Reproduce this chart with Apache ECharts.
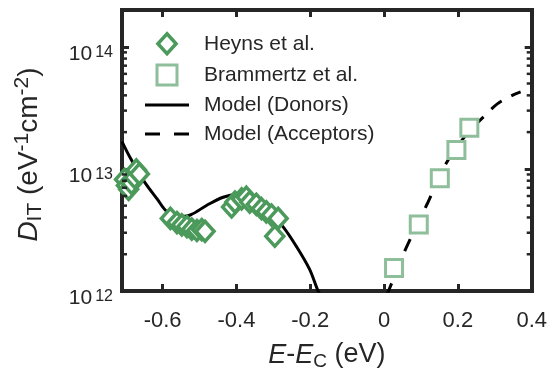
<!DOCTYPE html>
<html>
<head>
<meta charset="utf-8">
<script src="https://cdn.jsdelivr.net/npm/echarts@6/dist/echarts.min.js"></script>
<style>
  html, body { margin: 0; padding: 0; background: #ffffff; }
  #chart { width: 550px; height: 376px; }
</style>
</head>
<body>
<div id="chart"></div>
<script>
// Interface trap density D_IT versus energy relative to the conduction band edge.

// Heyns et al. measurements (E - E_C in eV, D_IT in eV^-1 cm^-2)
const heynsE = [-0.711, -0.703, -0.698, -0.692, -0.684, -0.676, -0.671, -0.663,
  -0.579, -0.561, -0.548, -0.534, -0.521, -0.507, -0.494, -0.485,
  -0.413, -0.404, -0.386, -0.373, -0.364, -0.346, -0.332, -0.319, -0.305, -0.287, -0.296];
const heynsDit = [8.8e12, 8.2e12, 7.3e12, 6.8e12, 7.6e12, 8.5e12, 9.8e12, 9.1e12,
  3.93e12, 3.63e12, 3.48e12, 3.37e12, 3.21e12, 3.13e12, 3.18e12, 3.08e12,
  4.88e12, 5.35e12, 5.68e12, 5.86e12, 5.35e12, 5.13e12, 4.72e12, 4.45e12, 4.19e12, 3.93e12, 2.81e12];

// Brammertz et al. measurements
const brammertzE = [0.027, 0.094, 0.151, 0.196, 0.231];
const brammertzDit = [1.54e12, 3.5e12, 8.4e12, 1.43e13, 2.17e13];

// Model curve, donor-like traps
const donorE = [-0.71, -0.687, -0.651, -0.615, -0.588, -0.557, -0.525, -0.48, -0.436,
  -0.4, -0.364, -0.319, -0.274, -0.238, -0.202, -0.18, -0.17];
const donorDit = [1.67e13, 1.22e13, 7.98e12, 5.68e12, 4.45e12, 4.06e12, 4.19e12, 5.04e12, 5.86e12,
  6.17e12, 5.86e12, 4.72e12, 3.37e12, 2.33e12, 1.51e12, 1.02e12, 0.9e12];

// Model curve, acceptor-like traps
const acceptorE = [0.006, 0.012, 0.058, 0.117, 0.166, 0.22, 0.254, 0.274, 0.306, 0.346, 0.37];
const acceptorDit = [0.92e12, 1.0e12, 2.19e12, 5.18e12, 1.08e13, 1.86e13, 2.4e13, 2.75e13, 3.39e13, 3.98e13, 4.27e13];

// Axis ranges and minor log ticks
const xMin = -0.71, xMax = 0.4;
const yMin = 1e12, yMax = 2e14;
const yMinorTicks = [2e12, 3e12, 4e12, 5e12, 6e12, 7e12, 8e12, 9e12,
  2e13, 3e13, 4e13, 5e13, 6e13, 7e13, 8e13, 9e13];

const ink = '#262626';
const heynsColor = '#4b9a5b';
const brammertzColor = '#8fbe9b';
const font = 'Liberation Sans, Arial, Helvetica, sans-serif';

const pairs = (xs, ys) => xs.map((x, i) => [x, ys[i]]);

const axisLine = { show: true, onZero: false, lineStyle: { color: ink, width: 4, cap: 'square' } };
const majorTick = { show: true, inside: true, length: 7, lineStyle: { color: ink, width: 3 } };

const xLabel = v => {
  const k = v / 0.2;
  if (Math.abs(k - Math.round(k)) > 1e-6) return '';
  return String(+v.toFixed(1));
};
const yLabel = v => {
  const e = Math.log10(v);
  if (Math.abs(e - Math.round(e)) > 1e-6) return '';
  return '{b|10}{s|' + Math.round(e) + '}';
};

// legend glyphs
const diamondIcon = 'path://M10,0L20,11L10,22L0,11Z';
const squareIcon = 'path://M0,0H20V20H0Z';
const solidIcon = 'path://M0,0H44V3H0Z';
const dashedIcon = 'path://M0,0H15V3H0ZM29,0H44V3H29Z';

const chart = echarts.init(document.getElementById('chart'), null, { renderer: 'canvas' });

chart.setOption({
  animation: false,
  backgroundColor: '#ffffff',
  textStyle: { fontFamily: font, color: ink },
  grid: { left: 122, right: 15, top: 10, bottom: 81, containLabel: false },
  legend: {
    orient: 'vertical',
    left: 140,
    top: 27,
    itemWidth: 44,
    itemHeight: 20,
    itemGap: 8,
    symbolKeepAspect: true,
    selectedMode: false,
    data: [
      { name: 'Heyns et al.', icon: diamondIcon, itemStyle: { color: '#ffffff', borderColor: heynsColor, borderWidth: 3.5 } },
      { name: 'Brammertz et al.', icon: squareIcon, itemStyle: { color: '#ffffff', borderColor: brammertzColor, borderWidth: 3 } },
      { name: 'Model (Donors)', icon: solidIcon, itemStyle: { color: '#000000', borderWidth: 0 } },
      { name: 'Model (Acceptors)', icon: dashedIcon, itemStyle: { color: '#000000', borderWidth: 0 } }
    ],
    textStyle: { fontFamily: font, fontSize: 21, color: ink, padding: [0, 0, 0, 10] }
  },
  xAxis: [
    {
      type: 'value', min: xMin, max: xMax, splitNumber: 5, position: 'bottom',
      axisLine, axisTick: majorTick, splitLine: { show: false },
      axisLabel: { formatter: xLabel, fontSize: 22, color: ink, margin: 19, fontFamily: font },
      name: '{i|E}{n|-}{i|E}{sub|C}{n| (eV)}',
      nameLocation: 'middle', nameGap: 48,
      nameTextStyle: {
        fontFamily: font, color: ink,
        rich: {
          i: { fontSize: 27, fontStyle: 'italic', lineHeight: 32, verticalAlign: 'middle', fontFamily: font, color: ink },
          n: { fontSize: 27, lineHeight: 32, verticalAlign: 'middle', fontFamily: font, color: ink },
          sub: { fontSize: 19, lineHeight: 19, verticalAlign: 'bottom', fontFamily: font, color: ink }
        }
      }
    },
    {
      type: 'value', min: xMin, max: xMax, splitNumber: 5, position: 'top',
      axisLine, axisTick: majorTick, splitLine: { show: false },
      axisLabel: { show: false }
    }
  ],
  yAxis: [
    {
      type: 'log', logBase: 10, min: yMin, max: yMax, position: 'left',
      axisLine, axisTick: majorTick, splitLine: { show: false }, minorTick: { show: false },
      axisLabel: {
        formatter: yLabel, margin: 9, showMaxLabel: false, padding: [16, 0, 0, 0],
        rich: {
          b: { fontSize: 21, lineHeight: 20, verticalAlign: 'bottom', fontFamily: font, color: ink },
          s: { fontSize: 16, lineHeight: 15, verticalAlign: 'top', padding: [0, 0, 11, 3], fontFamily: font, color: ink }
        }
      },
      name: '{i|D}{sub|IT}{n| (eV}{sup|-1}{n|cm}{sup|-2}{n|)}',
      nameLocation: 'middle', nameGap: 76, nameRotate: 90,
      nameTextStyle: {
        fontFamily: font, color: ink, padding: [0, 8, 0, 0],
        rich: {
          i: { fontSize: 28, fontStyle: 'italic', lineHeight: 34, verticalAlign: 'middle', fontFamily: font, color: ink },
          n: { fontSize: 28, lineHeight: 34, verticalAlign: 'middle', fontFamily: font, color: ink },
          sub: { fontSize: 21, lineHeight: 21, verticalAlign: 'bottom', fontFamily: font, color: ink },
          sup: { fontSize: 21, lineHeight: 21, verticalAlign: 'top', fontFamily: font, color: ink }
        }
      }
    },
    {
      type: 'log', logBase: 10, min: yMin, max: yMax, position: 'right',
      axisLine, axisTick: majorTick, splitLine: { show: false },
      axisLabel: { show: false }
    }
  ],
  series: [
    {
      // minor decade ticks on the left and right frame edges
      type: 'custom',
      name: 'minor ticks',
      silent: true,
      clip: false,
      z: 5,
      data: yMinorTicks.map(v => [xMin, v]),
      renderItem(params, api) {
        const cs = params.coordSys;
        const y = api.coord([api.value(0), api.value(1)])[1];
        const len = 5;
        const style = { stroke: ink, lineWidth: 2.5 };
        return {
          type: 'group',
          children: [
            { type: 'line', shape: { x1: cs.x, y1: y, x2: cs.x + len, y2: y }, style },
            { type: 'line', shape: { x1: cs.x + cs.width - len, y1: y, x2: cs.x + cs.width, y2: y }, style }
          ]
        };
      }
    },
    {
      name: 'Model (Donors)',
      type: 'line',
      data: pairs(donorE, donorDit),
      smooth: 0.35,
      symbol: 'none',
      clip: true,
      lineStyle: { color: '#000000', width: 3 },
      itemStyle: { color: '#000000' },
      z: 2
    },
    {
      name: 'Model (Acceptors)',
      type: 'line',
      data: pairs(acceptorE, acceptorDit),
      smooth: 0.35,
      symbol: 'none',
      clip: true,
      lineStyle: { color: '#000000', width: 3, type: [13, 11] },
      itemStyle: { color: '#000000' },
      z: 2
    },
    {
      name: 'Heyns et al.',
      type: 'scatter',
      data: pairs(heynsE, heynsDit),
      symbol: 'diamond',
      symbolSize: [18, 20],
      itemStyle: { color: '#ffffff', borderColor: heynsColor, borderWidth: 3.5, opacity: 1 },
      z: 3
    },
    {
      name: 'Brammertz et al.',
      type: 'scatter',
      data: pairs(brammertzE, brammertzDit),
      symbol: 'rect',
      symbolSize: 17,
      itemStyle: { color: '#ffffff', borderColor: brammertzColor, borderWidth: 3, opacity: 1 },
      z: 3
    }
  ]
});
</script>
</body>
</html>
